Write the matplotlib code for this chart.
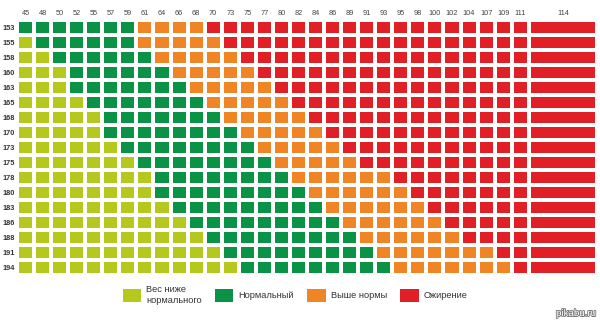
import numpy as np
import matplotlib.pyplot as plt
from matplotlib.colors import ListedColormap
from matplotlib.patches import Patch
import matplotlib.patheffects as pe

plt.rcParams['font.family'] = ['Liberation Sans', 'DejaVu Sans']

# weight columns (kg) and height rows (cm)
weights = [45, 48, 50, 52, 55, 57, 59, 61, 64, 66, 68, 70, 73, 75, 77, 80,
           82, 84, 86, 89, 91, 93, 95, 98, 100, 102, 104, 107, 109, 111, 114]
heights = [153, 155, 158, 160, 163, 165, 168, 170, 173, 175, 178, 180, 183,
           186, 188, 191, 194]

# first weight of each category for every height row
normal_from = [45, 48, 50, 52, 52, 55, 57, 57, 59, 61, 64, 64, 66, 68, 70, 73, 75]
over_from = [61, 61, 64, 66, 68, 70, 73, 75, 77, 80, 82, 84, 86, 89, 91, 93, 95]
obese_from = [70, 73, 75, 77, 80, 82, 84, 86, 89, 91, 95, 98, 100, 102, 104, 109, 111]

labels = ["Вес ниже\nнормального", "Нормальный", "Выше нормы", "Ожирение"]
colors = ["#b4c81e", "#0a9346", "#ef8525", "#e01f27"]

w = np.array(weights)
grid = np.array([(w >= n).astype(int) + (w >= o) + (w >= b)
                 for n, o, b in zip(normal_from, over_from, obese_from)])

fig = plt.figure(figsize=(6, 3.23), dpi=100)
W, H = 600, 323
ax = fig.add_axes([17 / W, (H - 275) / H, (597 - 17) / W, (275 - 19.5) / H])

# last column is drawn four cells wide
x_edges = np.append(np.arange(len(weights)), len(weights) + 3)
y_edges = np.arange(len(heights) + 1)
ax.pcolormesh(x_edges, y_edges, grid, cmap=ListedColormap(colors), vmin=-0.5, vmax=3.5,
              edgecolors="white", linewidth=1.6)
ax.set_xlim(x_edges[0], x_edges[-1])
ax.set_ylim(y_edges[-1], 0)

ax.xaxis.tick_top()
ax.set_xticks((x_edges[:-1] + x_edges[1:]) / 2)
ax.set_xticklabels(weights, fontsize=5.3, color="#444444")
ax.set_yticks(y_edges[:-1] + 0.5)
ax.set_yticklabels(heights, fontsize=5.3, color="#333333", fontweight="bold")
ax.tick_params(length=0, pad=1.5)
for s in ax.spines.values():
    s.set_visible(False)

handles = [Patch(facecolor=c, edgecolor="none") for c in colors]
fig.legend(handles, labels, loc="center", bbox_to_anchor=(0.492, 1 - 295 / H), ncol=4,
           frameon=False, fontsize=6.7, handlelength=1.95, handleheight=1.7,
           handletextpad=0.55, columnspacing=1.45, labelcolor="#333333")

fig.text(0.993, 1 - 313 / H, "pikabu.ru", ha="right", va="center", fontsize=7,
         color="white", path_effects=[pe.withStroke(linewidth=1.2, foreground="#777777")])

fig.savefig("out.png", dpi=100)
